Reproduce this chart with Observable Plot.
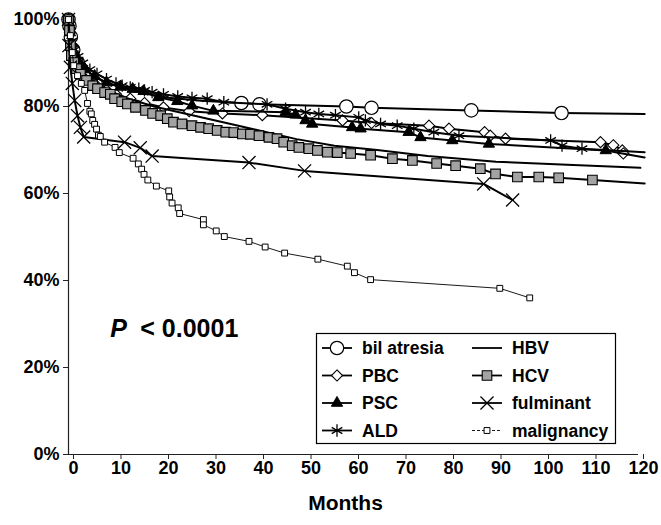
<!DOCTYPE html>
<html><head><meta charset="utf-8">
<script src="https://cdn.jsdelivr.net/npm/d3@7"></script>
<script src="https://cdn.jsdelivr.net/npm/@observablehq/plot@0.6"></script>
<style>
body{margin:0;background:#fff;}
#wrap{position:relative;width:661px;height:525px;}
#legend{position:absolute;left:0;top:0;pointer-events:none;}
</style></head><body><div id="wrap"></div>
<script>
// ---- data: [months, survival %, marker shown (1) or not (0)] ----
const bilAtresia = [[0,100,1],[0.2,98.5,1],[0.5,96,1],[1,93,1],[2,90,1],[3,88.5,0],[5,87,0],[8,85.5,0],[12,84,0],[16,83,0],[21,82,0],[28,81.3,0],[36.4,80.8,1],[40.2,80.5,1],[58.5,80.0,1],[63.8,79.7,1],[84.8,79.1,1],[103.8,78.5,1],[121.3,78.3,0]];
const pbc = [[0,100,1],[0.3,97,1],[0.8,94,1],[1.5,91,1],[2.5,89,1],[4,87,1],[5.7,85,1],[8,83.8,1],[10,82.8,1],[13,81.8,1],[16,80.8,1],[20,79.8,1],[25.4,78.9,1],[32.4,78.4,1],[40.8,78.0,1],[57.7,76.8,1],[63.8,76.2,1],[75.9,75.6,1],[80.1,74.9,1],[87.6,74.1,1],[88.8,73.3,1],[92.0,72.6,1],[112.0,71.8,1],[114.7,71.1,1],[116.6,69.9,1],[116.8,69.2,1]];
const psc = [[0,100,1],[0.3,97,1],[0.7,94.5,1],[1.2,92.5,1],[2,90.5,1],[3.5,88.5,1],[5.5,87,1],[8,85.5,1],[11,84.5,1],[13.5,84,1],[15.8,83.5,1],[18.9,82.1,1],[22.9,81.2,1],[26,80.2,1],[30.5,79.0,1],[45.7,78.7,1],[47.8,78.1,1],[49.9,76.8,1],[51.3,76.0,1],[59.7,75.2,1],[61.5,74.9,1],[71.6,74.1,1],[74.1,72.9,1],[80.8,72.2,1],[88.5,71.4,1],[113.1,69.9,1],[121.3,68.3,0]];
const ald = [[0,100,1],[0.3,97.5,1],[0.7,95,1],[1.2,93,1],[2,91.5,1],[3,90,1],[4.5,88.5,1],[6,87.5,1],[8,86.3,1],[10,85.3,1],[11.3,84.8,1],[13,84.4,1],[14.8,84.1,1],[16,83.7,1],[17.6,83.3,1],[20,82.8,1],[23,82.3,1],[26,82,1],[29.2,81.8,1],[32.7,81.0,1],[41.8,80.5,1],[45.7,79.5,1],[49.9,78.7,1],[52.7,78.3,1],[56.2,78.0,1],[61.1,77.5,1],[62.5,76.8,1],[65.7,76.0,1],[69.2,75.6,1],[72.7,74.9,1],[76.9,74.1,1],[82.2,73.3,1],[101.5,72.2,1],[103.9,71.0,1],[108.1,70.3,1],[121.3,69.5,0]];
const hbv = [[0,100,0],[0.3,96,0],[0.8,93,0],[1.5,90.5,0],[3,88,0],[5,86,0],[8,84,0],[12,82,0],[18,80,0],[24,78.5,0],[36,75.5,0],[48,72.5,0],[56,71,0],[65,70,0],[75.6,68.6,0],[90,67.3,0],[105,66.6,0],[120.4,65.9,0]];
const hcv = [[0,100,1],[0.2,97.5,1],[0.4,94,1],[0.6,91.7,1],[1.1,90.1,1],[1.7,88.7,1],[2.5,87.4,1],[3.8,86.0,1],[5.1,84.8,1],[6.1,84.1,1],[7.6,83.2,1],[8.8,82.8,1],[9.7,81.8,1],[11.2,81.1,1],[12.4,80.6,1],[14.1,79.8,1],[16.2,79.1,1],[17.7,78.4,1],[19.4,77.9,1],[20.8,77.2,1],[22.1,76.4,1],[23.9,76.0,1],[26.0,75.6,1],[27.8,75.2,1],[29.5,74.9,1],[31.3,74.5,1],[33.1,74.1,1],[34.8,74.0,1],[36.6,73.7,1],[38.3,73.6,1],[40.1,73.3,1],[42.2,72.9,1],[43.9,72.6,1],[45.3,71.8,1],[47.1,71.0,1],[48.5,70.6,1],[50.6,70.3,1],[52.4,69.9,1],[54.5,69.5,1],[56.6,69.4,1],[59.4,69.2,1],[63.6,68.8,1],[68.2,68.0,1],[72.4,67.6,1],[77.5,66.9,1],[81.5,66.4,1],[86.7,65.7,1],[89.9,64.5,1],[94.5,63.8,1],[99.0,63.8,1],[103.2,63.6,1],[110.3,63.1,1],[121.3,62.3,0]];
const fulminant = [[0,100,1],[0.1,94,1],[0.4,89,1],[0.8,85.3,1],[1.3,81.4,1],[1.9,77.9,1],[2.5,75.2,1],[3.2,73.0,1],[11.8,71.8,1],[15.1,70.5,1],[17.6,68.6,1],[38.0,67.1,1],[49.7,65.2,1],[87.4,62.2,1],[93.5,58.5,1]];
const malignancy = [[0,100,1],[0.4,96.3,1],[0.8,92.4,1],[1.1,89.4,1],[1.9,87.1,1],[2.7,85.3,1],[3.4,83.7,1],[4.0,80.7,1],[4.5,78.9,1],[4.8,78.3,1],[5.1,76.8,1],[5.5,75.9,1],[5.9,74.8,1],[6.3,73.4,1],[6.7,73.1,1],[7.6,71.8,1],[9.8,70.6,1],[10.7,69.4,1],[13.6,68.1,1],[14.7,66.8,1],[15.4,65.6,1],[15.9,64.4,1],[16.7,63.1,1],[18.5,61.7,1],[21.1,60.6,1],[21.3,59.2,1],[21.8,57.8,1],[23.1,56.7,1],[23.4,55.4,1],[28.4,54.0,1],[28.4,52.8,1],[31.1,51.4,1],[32.8,50.1,1],[38.0,49.0,1],[41.4,47.7,1],[45.5,46.3,1],[52.5,44.9,1],[58.7,43.3,1],[60.2,41.8,1],[63.6,40.2,1],[90.8,38.2,1],[97.1,36.0,1]];

const xTicks = [0,10,20,30,40,50,60,70,80,90,100,110,120];
const yTicks = [0,20,40,60,80,100];
const xLabel = "Months";
const pValue = [{x: 8.8, y: 26.9, p: "P", rest: "< 0.0001"}];

// ---- styles ----
const series = [
  {name:"bil atresia", data:bilAtresia, symbol:"circle", r:6.7, fill:"white", sw:1.2, lw:2},
  {name:"PBC", data:pbc, symbol:"diamond2", r:5, fill:"white", sw:1.1, lw:2},
  {name:"PSC", data:psc, symbol:"triangle", r:4.2, fill:"black", sw:1, lw:2},
  {name:"ALD", data:ald, symbol:"asterisk", r:5.8, fill:"none", sw:1.3, lw:2},
  {name:"HBV", data:hbv, symbol:null, lw:2},
  {name:"HCV", data:hcv, symbol:"square", r:5.4, fill:"#a3a3a3", sw:1.1, lw:2},
  {name:"fulminant", data:fulminant, symbol:"times", r:6, fill:"none", sw:1.3, lw:2},
  {name:"malignancy", data:malignancy, symbol:"square", r:3.3, fill:"white", sw:1, lw:0.9}
];

const marks = [
  Plot.ruleX([0], {y1:0, y2:100, stroke:"#222", strokeWidth:1.2}),
  Plot.ruleY([0], {x1:0, x2:120, stroke:"#222", strokeWidth:1.2}),
  Plot.axisY({ticks:yTicks, tickFormat:d=>d+"%", tickSize:5, tickPadding:4, label:null, stroke:"#222"}),
  Plot.axisX({ticks:xTicks, tickSize:5, tickPadding:2, dx:5, label:null, stroke:"#222"}),
  Plot.text([xLabel], {frameAnchor:"bottom", dx:-8, dy:55, fontSize:21, fontWeight:"bold", text:d=>d}),
  Plot.text(pValue, {x:"x", y:"y", text:"p", textAnchor:"start", lineAnchor:"bottom", fontSize:25, fontWeight:"bold", fontStyle:"italic"}),
  Plot.text(pValue, {x:"x", y:"y", text:"rest", textAnchor:"start", lineAnchor:"bottom", dx:30, fontSize:25, fontWeight:"bold"})
];
for (const s of series) {
  marks.push(Plot.line(s.data, {x:d=>d[0], y:d=>d[1], stroke:"black", strokeWidth:s.lw}));
  if (s.symbol) {
    marks.push(Plot.dot(s.data.filter(d=>d[2]), {x:d=>d[0], y:d=>d[1], symbol:s.symbol, r:s.r, fill:s.fill, stroke:"black", strokeWidth:s.sw}));
  }
}

const chart = Plot.plot({
  width:661, height:525,
  marginLeft:68, marginRight:23, marginTop:19, marginBottom:71,
  x:{domain:[0,120]},
  y:{domain:[0,100]},
  style:{fontFamily:"Arial, 'Liberation Sans', sans-serif", fontSize:"18px", fontWeight:"bold", color:"black", background:"white"},
  marks
});
document.getElementById("wrap").appendChild(chart);

// ---- legend overlay ----
const symMap = {circle:d3.symbolCircle, diamond2:d3.symbolDiamond2, triangle:d3.symbolTriangle, asterisk:d3.symbolAsterisk, square:d3.symbolSquare, times:d3.symbolTimes};
const lg = d3.select("#wrap").append("svg").attr("id","legend").attr("width",661).attr("height",525)
  .style("font-family","Arial, 'Liberation Sans', sans-serif").style("font-weight","bold").style("font-size","17.5px");
lg.append("rect").attr("x",316.5).attr("y",333.5).attr("width",299).attr("height",110).attr("fill","white").attr("stroke","black").attr("stroke-width",1.2);
series.forEach((s,i)=>{
  const col = Math.floor(i/4), row = i%4;
  const x0 = col ? 472 : 322, y0 = 348 + row*27.5;
  lg.append("line").attr("x1",x0).attr("x2",x0+30).attr("y1",y0).attr("y2",y0).attr("stroke","black")
    .attr("stroke-width", s.lw>1 ? 1.8 : 0.9).attr("stroke-dasharray", s.lw>1 ? null : "3,2");
  if (s.symbol) {
    lg.append("path").attr("d", d3.symbol(symMap[s.symbol], Math.PI*s.r*s.r)())
      .attr("transform",`translate(${x0+15},${y0})`).attr("fill",s.fill).attr("stroke","black").attr("stroke-width",s.sw);
  }
  lg.append("text").attr("x",x0+40).attr("y",y0).attr("dy","0.36em").text(s.name);
});
</script></body></html>
